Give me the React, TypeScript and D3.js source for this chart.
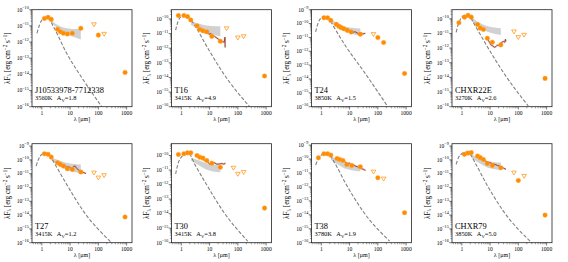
import React from "react";
import * as d3 from "d3";

// layout of the 2x4 grid of axes (pixels)
const W = 568;
const H = 262;
const COL_LEFT = [32, 171.5, 311.5, 452];
const ROW_TOP = [9.7, 143.7];
const ROW_BOTTOM = [106.7, 242.7];
const AX_W = 100;
const X_DOMAIN: [number, number] = [0.45, 1550];
const FONT = "Liberation Serif, serif";

const names = ["J10533978-7712338", "T16", "T24", "CHXR22E", "T27", "T30", "T38", "CHXR79"];
const teff = ["3560K", "3415K", "3850K", "3270K", "3415K", "3415K", "3780K", "3850K"];
const av = ["1.8", "4.9", "1.5", "2.6", "1.2", "3.8", "1.9", "5.0"];
// log10 of the upper y limit of each panel (lower limit is 1e-16 everywhere)
const yTopLog = [-10, -9.37, -9, -9.38, -8.83, -9.19, -8.9, -8.83];
const xTicks = [1, 10, 100, 1000];

// detections: [lambda (um), log10 lambda*F_lambda]
const detJ1053 = [[1.24, -10.54], [1.66, -10.47], [2.16, -10.6], [3.6, -11.22], [4.5, -11.36], [5.8, -11.46], [8.0, -11.5], [12, -11.46], [24, -11.15], [100, -11.57], [880, -13.88]];
const detT16 = [[0.79, -9.77], [1.24, -9.77], [1.66, -9.84], [2.16, -10.07], [3.6, -10.47], [4.5, -10.72], [5.8, -10.81], [8.0, -10.88], [12, -11.19], [24, -11.53], [880, -13.9]];
const detT24 = [[1.24, -9.58], [1.66, -9.58], [2.16, -9.77], [3.4, -10.06], [4.2, -10.2], [5.0, -10.29], [6.2, -10.37], [8.3, -10.49], [11.4, -10.61], [24, -10.77], [100, -11.01], [160, -11.37], [880, -13.6]];
const detCHXR22E = [[0.79, -10.27], [1.24, -9.89], [1.66, -9.77], [2.16, -9.89], [3.6, -10.39], [4.5, -10.64], [5.8, -10.73], [8.0, -11.33], [12, -11.6], [24, -11.78], [880, -14.07]];
const detT27 = [[1.24, -9.56], [1.66, -9.6], [2.16, -9.8], [3.6, -10.21], [4.5, -10.33], [5.8, -10.45], [8.0, -10.64], [12, -10.69], [24, -10.88], [880, -14.14]];
const detT30 = [[0.79, -9.93], [1.24, -9.88], [1.66, -9.82], [2.16, -9.82], [3.6, -10.0], [4.5, -10.12], [5.8, -10.18], [8.0, -10.35], [12, -10.53], [24, -10.81], [880, -13.62]];
const detT38 = [[0.79, -9.91], [1.24, -9.62], [1.66, -9.62], [2.16, -9.72], [3.6, -9.96], [4.5, -10.03], [5.8, -10.1], [8.0, -10.39], [12, -10.46], [24, -10.55], [100, -11.34], [880, -13.85]];
const detCHXR79 = [[1.24, -9.6], [1.66, -9.51], [2.16, -9.48], [3.6, -9.72], [4.5, -9.84], [5.8, -9.97], [8.0, -10.26], [12, -10.4], [24, -10.57], [100, -11.49], [880, -14.0]];

// upper limits (open triangles)
const ulJ1053 = [[70, -10.91], [160, -11.5]];
const ulT16 = [[40, -10.65], [100, -11.28], [160, -11.19]];
const ulT24 = [[70, -10.77]];
const ulCHXR22E = [[70, -10.87], [100, -11.26], [160, -11.1]];
const ulT27 = [[70, -10.93], [100, -11.29], [160, -11.12]];
const ulT30 = [[70, -10.85], [100, -11.27], [160, -11.15]];
const ulT38 = [[70, -10.91], [160, -11.41]];
const ulCHXR79 = [[70, -10.93], [160, -11.17]];

// grey comparison band: [lambda, log lower, log upper]
const bandJ1053 = [[2.2, -10.8, -10.65], [3.6, -11.15, -10.95], [5.8, -11.4, -11.1], [8, -11.55, -11.15], [12, -11.65, -11.2], [24, -11.85, -11.18]];
const bandT16 = [[2.2, -10.4, -10.1], [3.6, -10.65, -10.3], [5.8, -10.85, -10.4], [8, -10.95, -10.45], [12, -11.05, -10.48], [24, -11.2, -10.5]];
const bandT24 = [[2.2, -9.95, -9.7], [3.6, -10.25, -9.95], [5.8, -10.5, -10.15], [8, -10.65, -10.25], [12, -10.75, -10.3], [24, -10.9, -10.35]];
const bandCHXR22E = [[2.2, -10.15, -9.9], [3.6, -10.5, -10.2], [5.8, -10.75, -10.4], [8, -10.88, -10.5], [12, -10.98, -10.58], [24, -11.1, -10.64]];
const bandT27 = [[2.2, -10.05, -9.85], [3.6, -10.35, -10.0], [5.8, -10.6, -10.15], [8, -10.75, -10.22], [12, -10.85, -10.28], [24, -11.0, -10.33]];
const bandT30 = [[2.2, -10.35, -10.15], [3.6, -10.6, -10.3], [5.8, -10.85, -10.45], [8, -10.98, -10.55], [12, -11.08, -10.62], [24, -11.15, -10.69]];
const bandT38 = [[2.2, -10.05, -9.8], [3.6, -10.35, -10.05], [5.8, -10.6, -10.25], [8, -10.72, -10.35], [12, -10.8, -10.45], [24, -10.9, -10.55]];
const bandCHXR79 = [[2.2, -9.85, -9.6], [3.6, -10.15, -9.85], [5.8, -10.4, -10.0], [8, -10.55, -10.08], [12, -10.65, -10.15], [24, -10.75, -10.2]];

// IRS spectra (brown line)
const irsT16 = [[6.0, -10.85], [7, -10.95], [8, -10.9], [9.5, -11.05], [11, -11.0], [13, -11.15], [15, -11.2], [18, -11.3], [21, -11.4], [25, -11.5], [29, -11.55], [33, -11.6], [35, -11.25], [35.5, -11.95]];
const irsT24 = [[4.4, -10.13], [5, -10.2], [5.6, -10.3], [6.3, -10.28], [7.2, -10.42], [8.5, -10.38], [10, -10.55], [11.5, -10.5], [13, -10.62], [16, -10.6], [20, -10.72], [25, -10.68], [30, -10.75], [36, -10.7]];
const irsCHXR22E = [[8.5, -11.45], [9.5, -11.6], [11, -11.8], [12.5, -11.85], [14, -11.95], [16, -11.9], [18, -11.8], [20, -11.82], [23, -11.7], [26, -11.6], [30, -11.55], [33, -11.6], [35, -11.4], [36, -11.55]];
const irsT27 = [[5.8, -10.33], [6.5, -10.42], [7.6, -10.52], [9, -10.5], [10.5, -10.6], [11.5, -10.62], [13, -10.5], [15, -10.45], [17, -10.6], [20, -10.75], [23, -10.8], [28, -10.9], [33, -10.95], [36.6, -11.0]];
const irsT30 = [[3.9, -10.0], [4.5, -10.1], [5.2, -10.15], [6.6, -10.35], [8, -10.4], [10, -10.58], [12, -10.55], [15, -10.51], [18, -10.6], [22.6, -10.58], [27, -10.55], [32, -10.6], [36.6, -10.53]];
const irsT38 = [[5.8, -10.1], [6.8, -10.2], [8.7, -10.34], [10, -10.3], [11.5, -10.42], [13, -10.39], [16, -10.5], [19, -10.55], [22.6, -10.62], [27, -10.7], [32, -10.75], [36.6, -10.82]];
const irsCHXR79 = [[5.8, -9.97], [7, -10.1], [8.7, -10.21], [10, -10.2], [12, -10.3], [15, -10.33], [18, -10.4], [21, -10.45], [25.6, -10.52], [30, -10.6], [36.6, -10.69]];

// stellar photosphere (dashed)
const photJ1053 = [[0.67, -11.46], [0.83, -10.95], [1.0, -10.64], [1.31, -10.47], [1.72, -10.54], [2.58, -11.05], [7.6, -12.7], [29.5, -14.35], [132, -16.0]];
const photT16 = [[0.63, -10.77], [0.76, -10.19], [1.0, -9.84], [1.31, -9.77], [1.97, -9.95], [2.95, -10.42], [7.6, -11.81], [29.5, -13.67], [260, -16.0]];
const photT24 = [[0.63, -10.6], [0.76, -10.0], [1.0, -9.58], [1.31, -9.48], [1.97, -9.72], [2.58, -10.13], [7.6, -11.69], [29.5, -13.36], [225, -16.0]];
const photCHXR22E = [[0.63, -10.92], [0.76, -10.34], [1.0, -9.89], [1.42, -9.73], [1.97, -9.89], [2.95, -10.46], [7.6, -11.83], [29.5, -13.66], [225, -15.95]];
const photT27 = [[0.63, -10.45], [0.76, -9.97], [1.0, -9.6], [1.31, -9.51], [1.97, -9.72], [2.95, -10.33], [7.6, -11.78], [29.5, -13.71], [295, -16.0]];
const photT30 = [[0.63, -11.27], [0.76, -10.58], [1.0, -10.12], [1.42, -9.88], [1.97, -9.93], [2.95, -10.58], [7.6, -11.96], [29.5, -13.81], [225, -15.9]];
const photT38 = [[0.63, -10.43], [0.76, -10.03], [1.0, -9.72], [1.31, -9.57], [1.97, -9.72], [2.95, -10.27], [7.6, -11.82], [29.5, -13.73], [260, -15.88]];
const photCHXR79 = [[0.63, -10.33], [0.76, -9.84], [1.0, -9.56], [1.31, -9.43], [1.97, -9.6], [2.95, -10.21], [7.6, -11.78], [29.5, -13.71], [295, -16.0]];

const dets = [detJ1053, detT16, detT24, detCHXR22E, detT27, detT30, detT38, detCHXR79];
const uls = [ulJ1053, ulT16, ulT24, ulCHXR22E, ulT27, ulT30, ulT38, ulCHXR79];
const bands = [bandJ1053, bandT16, bandT24, bandCHXR22E, bandT27, bandT30, bandT38, bandCHXR79];
const irs = [null, irsT16, irsT24, irsCHXR22E, irsT27, irsT30, irsT38, irsCHXR79];
const phots = [photJ1053, photT16, photT24, photCHXR22E, photT27, photT30, photT38, photCHXR79];

const ORANGE = "#ff8c00";

function Panel({ i }: { i: number }) {
  const left = COL_LEFT[i % 4];
  const row = Math.floor(i / 4);
  const top = ROW_TOP[row];
  const bottom = ROW_BOTTOM[row];
  const right = left + AX_W;

  const x = d3.scaleLog().domain(X_DOMAIN).range([left, right]);
  const y = d3.scaleLog().domain([1e-16, Math.pow(10, yTopLog[i])]).range([bottom, top]);
  const Y = (lg: number) => y(Math.pow(10, lg));

  const clipId = `clip${i}`;

  const bandArea = d3
    .area<number[]>()
    .x((d) => x(d[0]))
    .y0((d) => Y(d[1]))
    .y1((d) => Y(d[2]))
    .curve(d3.curveMonotoneX);
  const photLine = d3
    .line<number[]>()
    .x((d) => x(d[0]))
    .y((d) => Y(d[1]))
    .curve(d3.curveMonotoneX);
  const irsLine = d3
    .line<number[]>()
    .x((d) => x(d[0]))
    .y((d) => Y(d[1]));

  // decade ticks on y
  const yMajor: number[] = [];
  for (let e = -16; e <= Math.floor(yTopLog[i] + 1e-9); e++) yMajor.push(e);
  const yMinor: number[] = [];
  for (let e = -16; e <= Math.floor(yTopLog[i]); e++)
    for (let k = 2; k <= 9; k++) {
      const v = Math.log10(k) + e;
      if (v <= yTopLog[i]) yMinor.push(v);
    }
  const xMinor: number[] = [];
  for (let e = -1; e <= 3; e++)
    for (let k = 2; k <= 9; k++) {
      const v = k * Math.pow(10, e);
      if (v > X_DOMAIN[0] && v < X_DOMAIN[1]) xMinor.push(v);
    }

  const spec = irs[i];
  const midY = (top + bottom) / 2;
  const ylx = left - 22.5;

  return (
    <g>
      <defs>
        <clipPath id={clipId}>
          <rect x={left} y={top} width={AX_W} height={bottom - top} />
        </clipPath>
      </defs>
      <rect x={left} y={top} width={AX_W} height={bottom - top} fill="#fff" />
      <g clipPath={`url(#${clipId})`}>
        <path d={bandArea(bands[i]) || ""} fill="#bdbdbd" fillOpacity={0.7} />
        <path
          d={photLine(phots[i]) || ""}
          fill="none"
          stroke="#808080"
          strokeWidth={1.1}
          strokeDasharray="3.6,1.8"
        />
        {spec && (
          <>
            <path d={irsLine(spec) || ""} fill="none" stroke="#d7a3a0" strokeWidth={2} strokeOpacity={0.6} />
            <path d={irsLine(spec) || ""} fill="none" stroke="#8b3f33" strokeWidth={0.9} />
          </>
        )}
        {dets[i].map((d, k) => (
          <circle key={k} cx={x(d[0])} cy={Y(d[1])} r={2.3} fill={ORANGE} stroke="#ffa940" strokeWidth={0.4} />
        ))}
        {uls[i].map((d, k) => {
          const cx = x(d[0]);
          const cy = Y(d[1]);
          const s = 2.3;
          return (
            <path
              key={k}
              d={`M${cx - s},${cy - s * 0.7}L${cx + s},${cy - s * 0.7}L${cx},${cy + s}Z`}
              fill="#fff"
              stroke={ORANGE}
              strokeWidth={0.7}
            />
          );
        })}
      </g>
      {/* frame */}
      <rect x={left} y={top} width={AX_W} height={bottom - top} fill="none" stroke="#222" strokeWidth={0.8} />
      {/* x ticks */}
      {xTicks.map((t) => (
        <g key={t}>
          <line x1={x(t)} x2={x(t)} y1={bottom} y2={bottom + 2.8} stroke="#222" strokeWidth={0.6} />
          <text x={x(t)} y={bottom + 8.2} fontSize={5.6} textAnchor="middle" fontFamily={FONT}>
            {t}
          </text>
        </g>
      ))}
      {xMinor.map((t) => (
        <line key={t} x1={x(t)} x2={x(t)} y1={bottom} y2={bottom + 1.6} stroke="#222" strokeWidth={0.45} />
      ))}
      <text x={left + AX_W / 2} y={bottom + 14} fontSize={6} textAnchor="middle" fontFamily={FONT}>
        λ [μm]
      </text>
      {/* y ticks */}
      {yMajor.map((e) => (
        <g key={e}>
          <line x1={left - 2.8} x2={left} y1={Y(e)} y2={Y(e)} stroke="#222" strokeWidth={0.6} />
          <text x={left - 3.2} y={Y(e) + 1.8} fontSize={5.6} textAnchor="end" fontFamily={FONT}>
            10
            <tspan dy={-2.4} fontSize={4.2}>
              {`−${-e}`}
            </tspan>
          </text>
        </g>
      ))}
      {yMinor.map((v) => (
        <line key={v} x1={left - 1.6} x2={left} y1={Y(v)} y2={Y(v)} stroke="#222" strokeWidth={0.4} />
      ))}
      <text
        transform={`translate(${ylx},${midY}) rotate(-90)`}
        fontSize={7.2}
        textAnchor="middle"
        fontFamily={FONT}
      >
        λF
        <tspan dy={1.6} fontSize={5.1}>λ</tspan>
        <tspan dy={-1.6}> [erg cm</tspan>
        <tspan dy={-2.7} fontSize={5.1}>−2</tspan>
        <tspan dy={2.7}> s</tspan>
        <tspan dy={-2.7} fontSize={5.1}>−1</tspan>
        <tspan dy={2.7}>]</tspan>
      </text>
      {/* labels */}
      <text x={left + 3} y={bottom - 13.8} fontSize={8.4} fontFamily={FONT}>
        {names[i]}
      </text>
      <text x={left + 3} y={bottom - 6.4} fontSize={6.4} fontFamily={FONT}>
        {teff[i]}
        {"\u2002 A"}
        <tspan dy={1.3} fontSize={4.6}>V</tspan>
        <tspan dy={-1.3}>={av[i]}</tspan>
      </text>
    </g>
  );
}

export default function App() {
  return (
    <svg
      width={W}
      height={H}
      viewBox={`0 0 ${W} ${H}`}
      style={{ position: "absolute", left: 0, top: 0, background: "#fff" }}
    >
      {names.map((_, i) => (
        <Panel key={i} i={i} />
      ))}
    </svg>
  );
}
